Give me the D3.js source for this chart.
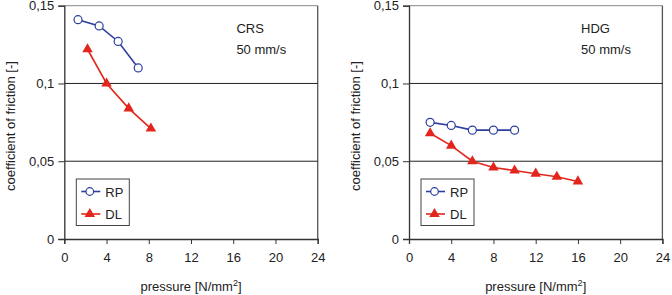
<!DOCTYPE html>
<html lang="en">
<head>
  <meta charset="UTF-8">
  <title>Coefficient of friction vs pressure</title>
  <style>
    body { margin: 0; background: #fff; }
    svg text { font-family: "Liberation Sans", Arial, sans-serif; fill: #222; }
  </style>
</head>
<body>
  <div id="chart"></div>
  <script src="https://d3js.org/d3.v7.min.js"></script>
  <script>
    // axis ticks shared by both panels
    const xTicks = [0, 4, 8, 12, 16, 20, 24];
    const yTicks = [0, 0.05, 0.1, 0.15];

    // CRS panel
    const crsRPx = [1.3, 3.3, 5.1, 7.0];
    const crsRPy = [0.141, 0.137, 0.127, 0.110];
    const crsDLx = [2.2, 4.0, 6.1, 8.2];
    const crsDLy = [0.122, 0.100, 0.084, 0.071];

    // HDG panel
    const hdgRPx = [2, 4, 6, 8, 10];
    const hdgRPy = [0.075, 0.073, 0.070, 0.070, 0.070];
    const hdgDLx = [2, 4, 6, 8, 10, 12, 14, 16];
    const hdgDLy = [0.068, 0.060, 0.050, 0.046, 0.044, 0.042, 0.040, 0.037];

    const seriesNames = ['RP', 'DL'];
    const panelTitles = ['CRS', 'HDG'];
    const speedLabel = '50 mm/s';

    const W = 672, H = 295;
    const BLUE = '#2b3f9e', RED = '#e3261d';

    const svg = d3.select('#chart').append('svg')
      .attr('width', W).attr('height', H);

    function zip(xs, ys) { return xs.map((x, i) => [x, ys[i]]); }

    function drawPanel(left, title, rp, dl) {
      const x = d3.scaleLinear().domain([0, 24]).range([left, left + 253.4]);
      const y = d3.scaleLinear().domain([0, 0.15]).range([239, 5.7]);
      const g = svg.append('g');
      const x0 = x(0), x1 = x(24), yTop = y(0.15), yBot = y(0);

      // frame (top + right)
      g.append('line').attr('x1', x0).attr('x2', x1).attr('y1', yTop).attr('y2', yTop)
        .attr('stroke', '#888').attr('stroke-width', 1);
      g.append('line').attr('x1', x1).attr('x2', x1).attr('y1', yTop).attr('y2', yBot)
        .attr('stroke', '#555').attr('stroke-width', 1.3);

      // horizontal grid lines
      g.selectAll('.grid').data(yTicks.filter(d => d > 0 && d < 0.15)).enter()
        .append('line')
        .attr('x1', x0).attr('x2', x1)
        .attr('y1', d => y(d)).attr('y2', d => y(d))
        .attr('stroke', '#222').attr('stroke-width', 1);

      // axes
      const yAxis = g.append('g').attr('transform', `translate(${x0},0)`)
        .call(d3.axisLeft(y).tickValues(yTicks).tickSize(6).tickPadding(4)
          .tickFormat(d => d === 0 ? '0' : String(d).replace('.', ',')));
      const xAxis = g.append('g').attr('transform', `translate(0,${yBot})`)
        .call(d3.axisBottom(x).tickValues(xTicks).tickSize(5).tickPadding(9));
      [yAxis, xAxis].forEach(a => {
        a.select('.domain').attr('stroke', '#333').attr('stroke-width', 1.3);
        a.selectAll('.tick line').attr('stroke', '#333');
        a.selectAll('text').attr('font-size', 13).attr('fill', '#222')
          .attr('font-family', '"Liberation Sans", Arial, sans-serif');
      });

      // axis titles
      const xl = g.append('text').attr('x', (x0 + x1) / 2).attr('y', 290.5)
        .attr('text-anchor', 'middle').attr('font-size', 13).text('pressure [N/mm');
      xl.append('tspan').attr('font-size', 9).attr('dy', -5).text('2');
      xl.append('tspan').attr('dy', 5).text(']');

      g.append('text')
        .attr('transform', `translate(${x0 - 49},126) rotate(-90)`)
        .attr('text-anchor', 'middle').attr('font-size', 13)
        .text('coefficient of friction [-]');

      // annotation
      g.append('text').attr('x', x(16.3)).attr('y', 32.5).attr('font-size', 13).text(title);
      g.append('text').attr('x', x(16.3)).attr('y', 53.5).attr('font-size', 13).text(speedLabel);

      const line = d3.line().x(d => x(d[0])).y(d => y(d[1]));
      const tri = d3.symbol().type(d3.symbolTriangle).size(48);

      // DL series
      g.append('path').datum(dl).attr('d', line)
        .attr('fill', 'none').attr('stroke', RED).attr('stroke-width', 1.6);
      g.selectAll('.dl').data(dl).enter().append('path')
        .attr('d', tri)
        .attr('transform', d => `translate(${x(d[0])},${y(d[1])})`)
        .attr('fill', RED);

      // RP series
      g.append('path').datum(rp).attr('d', line)
        .attr('fill', 'none').attr('stroke', BLUE).attr('stroke-width', 1.6);
      g.selectAll('.rp').data(rp).enter().append('circle')
        .attr('cx', d => x(d[0])).attr('cy', d => y(d[1])).attr('r', 4)
        .attr('fill', '#fff').attr('stroke', BLUE).attr('stroke-width', 1.2);

      // legend
      const lx = x0 + 12, ly = 179;
      g.append('rect').attr('x', lx).attr('y', ly).attr('width', 53).attr('height', 46.5)
        .attr('fill', '#fff').attr('stroke', '#444').attr('stroke-width', 1);
      seriesNames.forEach((name, i) => {
        const cy = ly + 12.5 + i * 22.5;
        const col = i === 0 ? BLUE : RED;
        g.append('line').attr('x1', lx + 5).attr('x2', lx + 24).attr('y1', cy).attr('y2', cy)
          .attr('stroke', col).attr('stroke-width', 1.6);
        if (i === 0) {
          g.append('circle').attr('cx', lx + 13.5).attr('cy', cy).attr('r', 3.8)
            .attr('fill', '#fff').attr('stroke', BLUE).attr('stroke-width', 1.2);
        } else {
          g.append('path').attr('d', tri)
            .attr('transform', `translate(${lx + 13.5},${cy})`).attr('fill', RED);
        }
        g.append('text').attr('x', lx + 29).attr('y', cy + 5).attr('font-size', 13).text(name);
      });
    }

    drawPanel(64.3, panelTitles[0], zip(crsRPx, crsRPy), zip(crsDLx, crsDLy));
    drawPanel(409, panelTitles[1], zip(hdgRPx, hdgRPy), zip(hdgDLx, hdgDLy));
  </script>
</body>
</html>
